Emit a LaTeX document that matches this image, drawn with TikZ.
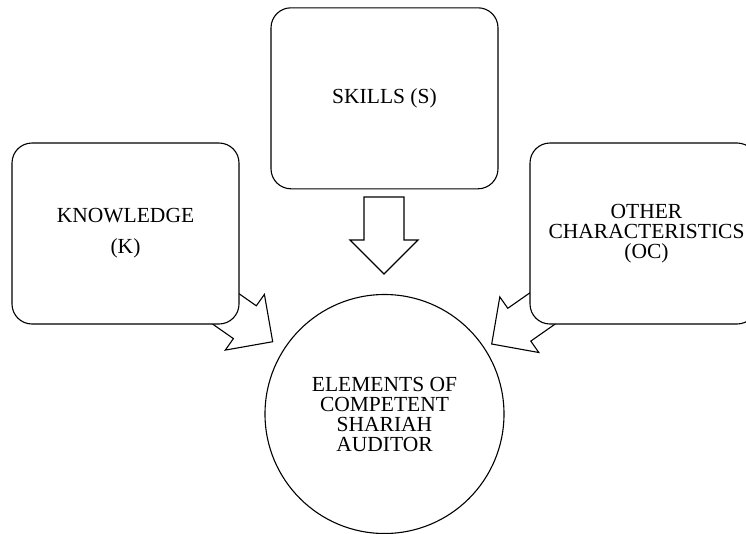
\documentclass[tikz,border=0pt]{standalone}
\usepackage{fontspec}
\setmainfont{Liberation Serif}
\begin{document}
\begin{tikzpicture}[x=1pt,y=-1pt,
  every node/.style={font=\fontsize{21.5}{20}\selectfont, align=center, inner sep=0pt},
  roundbox/.style={draw=black, line width=1.1pt, fill=white, rounded corners=20pt,
    minimum width=227pt, minimum height=181pt},
  hubcircle/.style={draw=black, line width=1.1pt, fill=white, circle, minimum size=239pt},
  blockarrow/.style={draw=black, line width=1.1pt, fill=white, line join=miter}]
\useasboundingbox (0,0) rectangle (746,533);
\clip (0,0) rectangle (746,533);

% block arrows (drawn first, boxes cover their tails)
\draw[blockarrow] (364,197) -- (404,197) -- (404,240) -- (418,240) -- (384,274)
  -- (350,240) -- (364,240) -- cycle;
\draw[blockarrow] (207.2,271.4) -- (256.3,305.8) -- (264.4,294.4) -- (272.7,341.7)
  -- (225.3,350.1) -- (233.4,338.6) -- (184.2,304.2) -- cycle;
\draw[blockarrow] (556.9,273.9) -- (507.8,308.3) -- (499.8,296.9) -- (491.7,344)
  -- (538.8,352.5) -- (530.8,341.1) -- (579.9,306.7) -- cycle;

% boxes
\node[roundbox] (skills) at (384.5,98.3) {SKILLS (S)};
\node[roundbox] (know) at (125.5,233.5) {KNOWLEDGE\\[11pt](K)};
\node[roundbox] (other) at (643.5,233.5)
  {\fontsize{21.5}{19.7}\selectfont\hspace*{6pt}OTHER\\\hspace*{6pt}CHARACTERISTICS\\\hspace*{6pt}(OC)};

% central circle
\node[hubcircle] (hub) at (384.5,414)
  {ELEMENTS OF\\COMPETENT\\SHARIAH\\AUDITOR};
\end{tikzpicture}
\end{document}
